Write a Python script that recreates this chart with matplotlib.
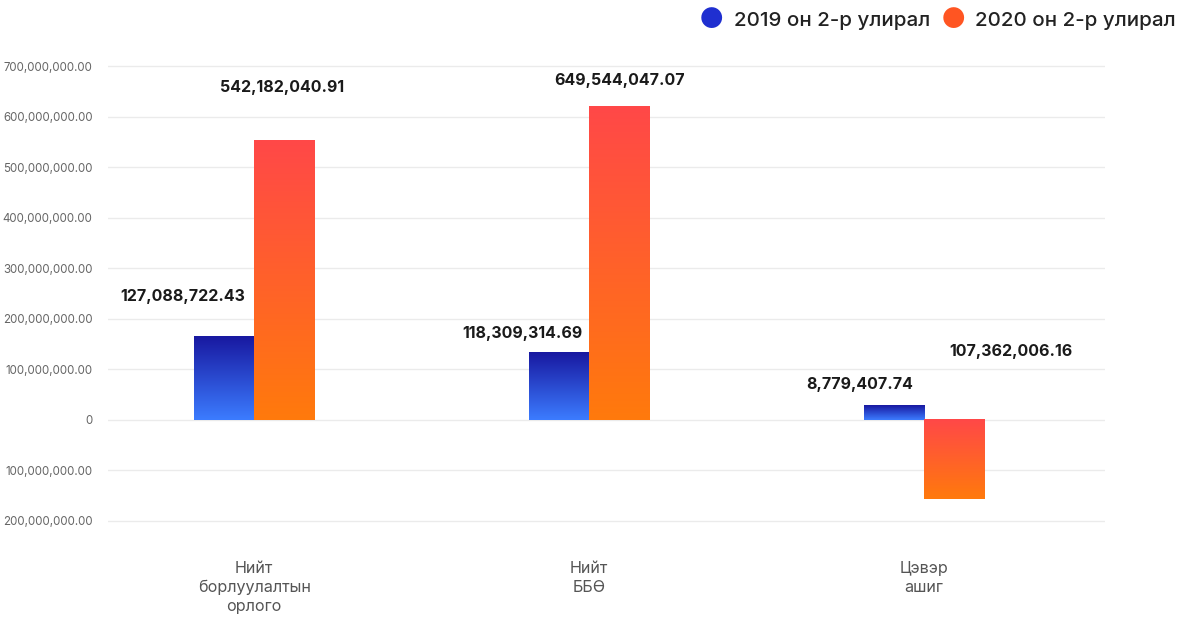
import numpy as np
import matplotlib.pyplot as plt
from matplotlib.colors import LinearSegmentedColormap

plt.rcParams['font.family'] = ['Inter', 'DejaVu Sans']

categories = ['Нийт\nборлуулалтын\nорлого', 'Нийт\nББӨ', 'Цэвэр\nашиг']
series_names = ['2019 он 2-р улирал', '2020 он 2-р улирал']
# bar heights as drawn in the picture
vals_2019 = [166e6, 134e6, 28e6]
vals_2020 = [553e6, 620e6, -157e6]
# printed labels
labels_2019 = ['127,088,722.43', '118,309,314.69', '8,779,407.74']
labels_2020 = ['542,182,040.91', '649,544,047.07', '107,362,006.16']
# label offsets in pixels from bar top centre (dx, dy)
offs_2019 = [(-41, 39), (-36, 19), (-34, 21)]
offs_2020 = [(-2, 53), (0, 26), (57, 68)]
yticks = [-200e6, -100e6, 0, 100e6, 200e6, 300e6, 400e6, 500e6, 600e6, 700e6]


def fmt(v):
    if v == 0:
        return '0'
    return f'{abs(v):,.2f}'


fig = plt.figure(figsize=(11.96, 6.21), dpi=100)
fig.patch.set_facecolor('white')
ax = fig.add_axes([108 / 1196, (621 - 523.5) / 621, (1105 - 108) / 1196, 460 / 621])

blue_cm = LinearSegmentedColormap.from_list('b', ['#3c7cff', '#1818a0'])
orange_cm = LinearSegmentedColormap.from_list('o', ['#ff7a0c', '#ff4848'])

x = np.arange(len(categories))
w = 0.18
b1 = ax.bar(x - w / 2, vals_2019, w, color='none', edgecolor='none')
b2 = ax.bar(x + w / 2, vals_2020, w, color='none', edgecolor='none')

# vertical gradient: bottom colour -> top colour
grad = np.linspace(0, 1, 256).reshape(-1, 1)
for bars, cm in ((b1, blue_cm), (b2, orange_cm)):
    for p in bars:
        x0, y0, bw, bh = p.get_x(), p.get_y(), p.get_width(), p.get_height()
        lo, hi = min(y0, y0 + bh), max(y0, y0 + bh)
        ax.imshow(grad, extent=[x0, x0 + bw, lo, hi], origin='lower', cmap=cm, aspect='auto', zorder=2)

for bars, labs, offs in ((b1, labels_2019, offs_2019), (b2, labels_2020, offs_2020)):
    for p, lab, (dx, dy) in zip(bars, labs, offs):
        top = max(p.get_y(), p.get_y() + p.get_height())
        ax.annotate(lab, (p.get_x() + p.get_width() / 2, top), xytext=(dx * 0.72, dy * 0.72),
                    textcoords='offset points', ha='center', va='center',
                    fontsize=11.5, fontweight='bold', color='#1a1a1a')

ax.set_xlim(-0.436, 2.54)
ax.set_ylim(-205e6, 705e6)
ax.set_yticks(yticks)
ax.set_yticklabels([fmt(v) for v in yticks])
ax.tick_params(axis='y', length=0, pad=11, labelsize=8.3, labelcolor='#666666')
ax.set_xticks(x)
ax.set_xticklabels(categories)
ax.tick_params(axis='x', length=0, pad=27, labelsize=11.6, labelcolor='#555555')
for lab in ax.get_xticklabels():
    lab.set_linespacing(1.3)
ax.grid(axis='y', color='#ebebeb', linewidth=1)
ax.set_axisbelow(True)
for s in ax.spines.values():
    s.set_visible(False)

# legend
ly = 1 - 21 / 621
fig.text(711 / 1196, ly, '\u25CF', color='#1f2fd0', fontsize=20, ha='center', va='center')
fig.text(734 / 1196, ly, series_names[0], fontsize=14.8, fontweight='medium', color='#222222', va='center')
fig.text(953 / 1196, ly, '\u25CF', color='#ff5522', fontsize=20, ha='center', va='center')
fig.text(975 / 1196, ly, series_names[1], fontsize=14.8, fontweight='medium', color='#222222', va='center')

fig.savefig('out.png', dpi=100)
